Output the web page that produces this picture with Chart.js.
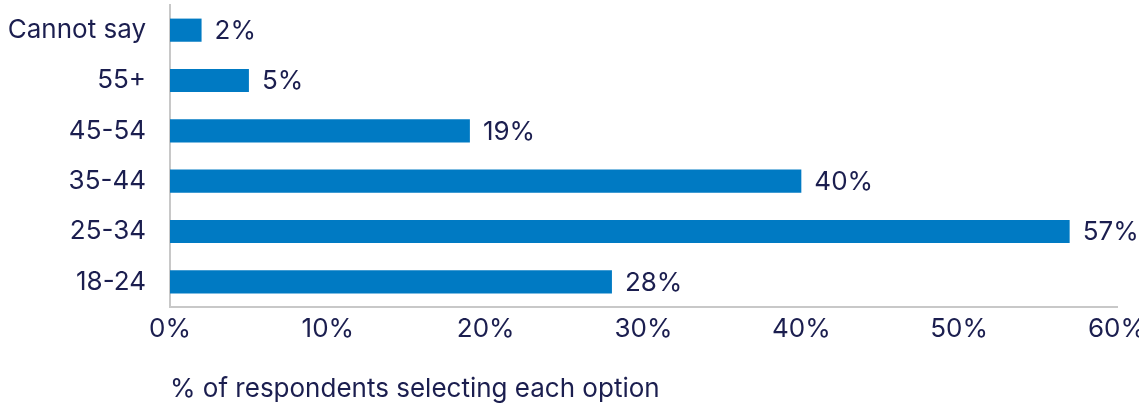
<!DOCTYPE html>
<html>
<head>
<meta charset="utf-8">
<script src="https://cdn.jsdelivr.net/npm/chart.js@4/dist/chart.umd.min.js"></script>
<style>
  html, body { margin: 0; padding: 0; background: #fff; overflow: hidden; }
</style>
</head>
<body>
<canvas id="canvas" width="1139" height="405"></canvas>
<script>
//****DATA****//

var ageGroups = ['Cannot say', '55+', '45-54', '35-44', '25-34', '18-24'];
var respondentShare = [2, 5, 19, 40, 57, 28];
var shareLabels = ['2%', '5%', '19%', '40%', '57%', '28%'];
var axisTitle = '% of respondents selecting each option';

var navy = '#1b1e4f';
var barBlue = '#007ac3';
var axisGrey = '#c8c8c8';
var fontFamily = 'Inter, "Noto Sans", sans-serif';

//****VALUE LABELS****//

var valueLabels = {
  id: 'valueLabels',
  afterDatasetsDraw: function(chart) {
    var ctx = chart.ctx;
    var meta = chart.getDatasetMeta(0);
    ctx.save();
    ctx.font = '26px ' + fontFamily;
    ctx.fillStyle = navy;
    ctx.textAlign = 'left';
    ctx.textBaseline = 'middle';
    for (var i = 0; i < meta.data.length; i++) {
      var bar = meta.data[i];
      ctx.fillText(shareLabels[i], bar.x + 13, bar.y + 1);
    }
    ctx.restore();
  }
};

//****CHART****//

var ctx = document.getElementById('canvas').getContext('2d');

var chart = new Chart(ctx, {
  type: 'bar',
  data: {
    labels: ageGroups,
    datasets: [
      {
        data: respondentShare,
        backgroundColor: barBlue,
        barPercentage: 0.46,
        categoryPercentage: 1
      }
    ]
  },
  options: {
    indexAxis: 'y',
    responsive: false,
    animation: false,
    layout: { padding: { top: 5, left: 0, right: 0, bottom: 0 } },
    plugins: {
      legend: { display: false },
      tooltip: { enabled: false }
    },
    scales: {
      x: {
        min: 0,
        max: 60,
        grid: { display: false, drawTicks: false },
        border: { display: true, color: axisGrey, width: 2 },
        ticks: {
          stepSize: 10,
          padding: 7,
          color: navy,
          font: { family: fontFamily, size: 26 },
          callback: function(v) { return v + '%'; }
        },
        title: {
          display: true,
          text: axisTitle,
          align: 'start',
          color: navy,
          font: { family: fontFamily, size: 26 },
          padding: { top: 20, bottom: 0 }
        },
        // fixed sizes so the plot area lines up with the original
        afterFit: function(scale) {
          scale.height = 98;
          scale.paddingRight = 22;
          scale.paddingTop = 0;
        }
      },
      y: {
        grid: { display: false, drawTicks: false },
        border: { display: true, color: axisGrey, width: 2 },
        ticks: {
          padding: 24,
          color: navy,
          font: { family: fontFamily, size: 26 }
        },
        afterFit: function(scale) {
          scale.width = 170;
          scale.paddingTop = 0;
          scale.paddingBottom = 0;
        }
      }
    }
  },
  plugins: [valueLabels]
});
</script>
</body>
</html>
